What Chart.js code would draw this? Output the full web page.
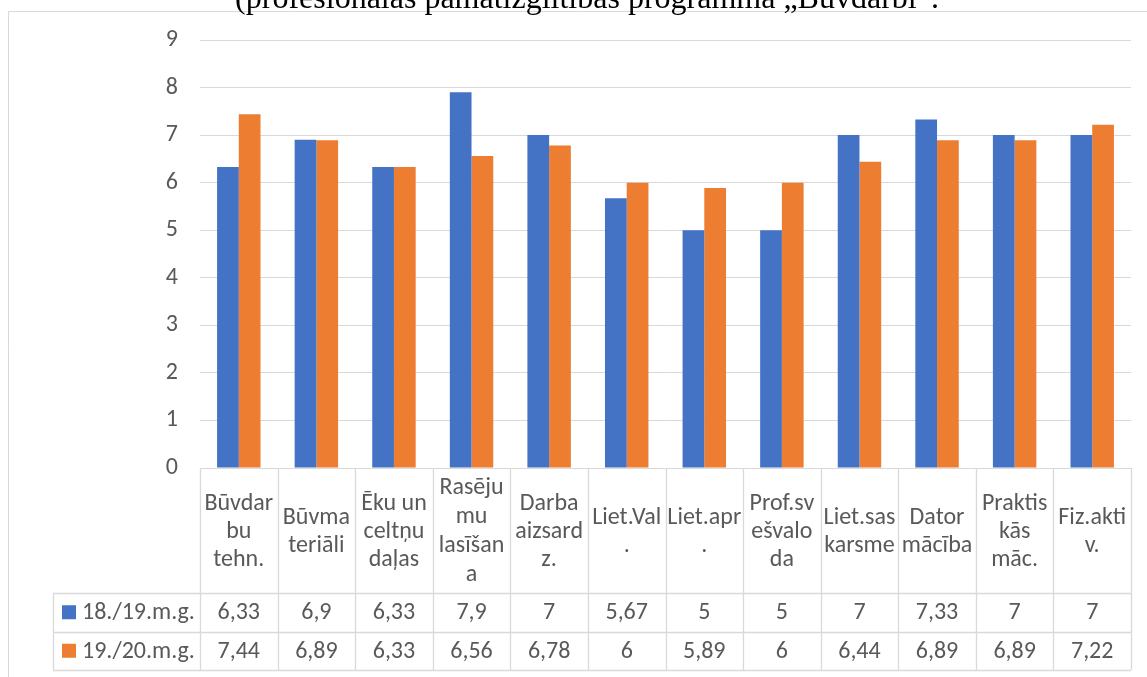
<!DOCTYPE html>
<html>
<head>
<meta charset="utf-8">
<script src="https://cdn.jsdelivr.net/npm/chart.js@4.4.0/dist/chart.umd.min.js"></script>
<style>
  html, body { margin: 0; padding: 0; background: #fff; }
  #wrap { position: relative; width: 1147px; height: 677px; overflow: hidden; }
</style>
</head>
<body>
<div id="wrap"><canvas id="chart" width="1147" height="677"></canvas></div>
<script>
    const titleText = '(profesionālās pamatizglītības programma \u201EBūvdarbi\u201D.';

    // kategorijas (rindas galvenē)
    const categories = [
        ['Būvdar', 'bu', 'tehn.'],
        ['Būvma', 'teriāli'],
        ['Ēku un', 'celtņu', 'daļas'],
        ['Rasēju', 'mu', 'lasīšan', 'a'],
        ['Darba', 'aizsard', 'z.'],
        ['Liet.Val', '.'],
        ['Liet.apr', '.'],
        ['Prof.sv', 'ešvalo', 'da'],
        ['Liet.sas', 'karsme'],
        ['Dator', 'mācība'],
        ['Praktis', 'kās', 'māc.'],
        ['Fiz.akti', 'v.']
    ];

    const seriesNames = ['18./19.m.g.', '19./20.m.g.'];
    const values1819 = [6.33, 6.9, 6.33, 7.9, 7, 5.67, 5, 5, 7, 7.33, 7, 7];
    const values1920 = [7.44, 6.89, 6.33, 6.56, 6.78, 6, 5.89, 6, 6.44, 6.89, 6.89, 7.22];
    const yTicks = [0, 1, 2, 3, 4, 5, 6, 7, 8, 9];

    const cores = ['#4472C4', '#ED7D31'];
    const fonte = 'Carlito, Lato, sans-serif';
    const corTexto = '#595959';
    const corLinha = '#d9d9d9';

    function fmt(v) {
        return String(v).replace('.', ',');
    }

    // tabela de dados abaixo do gráfico
    const tabelaPlugin = {
        id: 'tabelaDados',
        afterDraw(chart) {
            const ctx = chart.ctx;
            const area = chart.chartArea;
            const x = chart.scales.x;
            const n = categories.length;
            const cw = area.width / n;
            const top = area.bottom;
            const hdrBottom = 593;
            const rowH = 38.5;
            const bottom = hdrBottom + rowH * 2;
            const legLeft = 53;

            ctx.save();

            // moldura do gráfico
            ctx.strokeStyle = corLinha;
            ctx.lineWidth = 1;
            ctx.beginPath();
            ctx.moveTo(8.5, 677);
            ctx.lineTo(8.5, 11.5);
            ctx.lineTo(1147, 11.5);
            ctx.stroke();

            // título (cortado no topo)
            ctx.fillStyle = '#000';
            ctx.font = '32px "Liberation Serif", serif';
            ctx.textAlign = 'center';
            ctx.textBaseline = 'alphabetic';
            ctx.fillText(titleText, 587, 8);

            // linhas da tabela
            ctx.strokeStyle = corLinha;
            ctx.lineWidth = 1.3;
            ctx.beginPath();
            for (let i = 0; i <= n; i++) {
                const px = Math.round(area.left + cw * i) + 0.5;
                ctx.moveTo(px, top);
                ctx.lineTo(px, bottom);
            }
            [hdrBottom, hdrBottom + rowH, bottom].forEach(function (yy) {
                ctx.moveTo(legLeft, Math.round(yy) + 0.5);
                ctx.lineTo(area.right, Math.round(yy) + 0.5);
            });
            ctx.moveTo(legLeft + 0.5, hdrBottom);
            ctx.lineTo(legLeft + 0.5, bottom);
            ctx.stroke();

            // textos
            ctx.fillStyle = corTexto;
            ctx.font = '24px ' + fonte;
            ctx.textAlign = 'center';
            ctx.textBaseline = 'middle';
            const hdrMid = (top + hdrBottom) / 2 + 1;
            categories.forEach(function (linhas, i) {
                const cx = x.getPixelForValue(i);
                const lh = linhas.length === 4 ? 29 : 28;
                const y0 = hdrMid - (linhas.length - 1) * lh / 2;
                linhas.forEach(function (t, k) {
                    ctx.fillText(t, cx, y0 + k * lh);
                });
                ctx.fillText(fmt(values1819[i]), cx, hdrBottom + rowH / 2 + 1);
                ctx.fillText(fmt(values1920[i]), cx, hdrBottom + rowH * 1.5 + 1);
            });

            // legenda
            ctx.textAlign = 'left';
            seriesNames.forEach(function (nome, k) {
                const cy = hdrBottom + rowH * (k + 0.5);
                ctx.fillStyle = cores[k];
                ctx.fillRect(62, cy - 7, 14, 14);
                ctx.fillStyle = corTexto;
                ctx.fillText(nome, 82, cy + 1);
            });

            ctx.restore();
        }
    };

    const ctx = document.getElementById('chart').getContext('2d');
    new Chart(ctx, {
        type: 'bar',
        data: {
            labels: categories,
            datasets: [
                { label: seriesNames[0], data: values1819, backgroundColor: cores[0] },
                { label: seriesNames[1], data: values1920, backgroundColor: cores[1] }
            ]
        },
        options: {
            responsive: false,
            animation: false,
            devicePixelRatio: 1,
            layout: { padding: { top: 40, bottom: 209, right: 16, left: 0 } },
            datasets: {
                bar: { categoryPercentage: 0.56, barPercentage: 1 }
            },
            plugins: {
                legend: { display: false },
                tooltip: { enabled: false }
            },
            scales: {
                x: {
                    display: false,
                    offset: true
                },
                y: {
                    min: 0,
                    max: 9,
                    afterFit(scale) { scale.width = 200; },
                    afterBuildTicks(scale) { scale.ticks = yTicks.map(v => ({ value: v })); },
                    border: { display: false },
                    grid: { color: corLinha, lineWidth: 1, drawTicks: false },
                    ticks: {
                        padding: 22,
                        color: corTexto,
                        font: { family: fonte, size: 24 }
                    }
                }
            }
        },
        plugins: [tabelaPlugin]
    });
</script>
</body>
</html>
